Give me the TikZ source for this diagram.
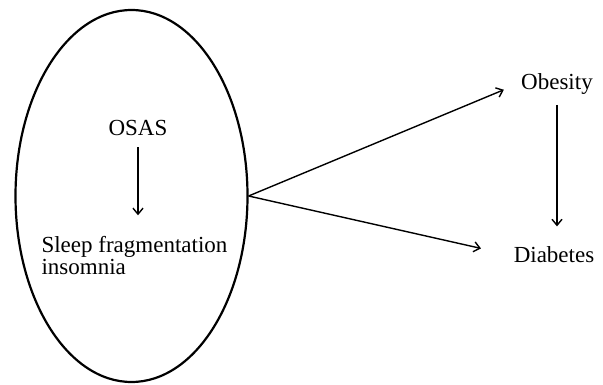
\documentclass[tikz,border=0pt]{standalone}
\usepackage{fontspec}
\setmainfont{Liberation Serif}
\usetikzlibrary{shapes.geometric,arrows.meta}

\begin{document}
\begin{tikzpicture}[x=1pt,y=-1pt,font=\fontsize{23}{22}\selectfont,
		pil/.style={line width=1.4pt, -{Straight Barb[length=6pt,width=10pt]}}]
		\useasboundingbox (0,0) rectangle (603,385);
		\node[draw, line width=2.2pt, ellipse, minimum width=232pt, minimum height=372pt, inner sep=0pt] (sleep) at (131.5,196) {};
		\node (osas) at (138,128) {OSAS};
		\node[anchor=west, align=left] (frag) at (38,256) {Sleep fragmentation\\insomnia};
		\node (obesity) at (557,84) {Obesity};
		\node (diabetes) at (554,255) {Diabetes};
		%Pilene
		\draw [pil, shorten <=8pt, shorten >=18pt] (osas.south) -- (osas.south |- frag.north);
		\draw [pil, shorten >=15pt] (sleep.east) -- (obesity.west);
		\draw [pil, shorten >=30pt] (sleep.east) -- (diabetes.west);
		\draw [pil, shorten <=7pt, shorten >=17pt] (obesity.south) -- (obesity.south |- diabetes.north);
	\end{tikzpicture}
\end{document}
